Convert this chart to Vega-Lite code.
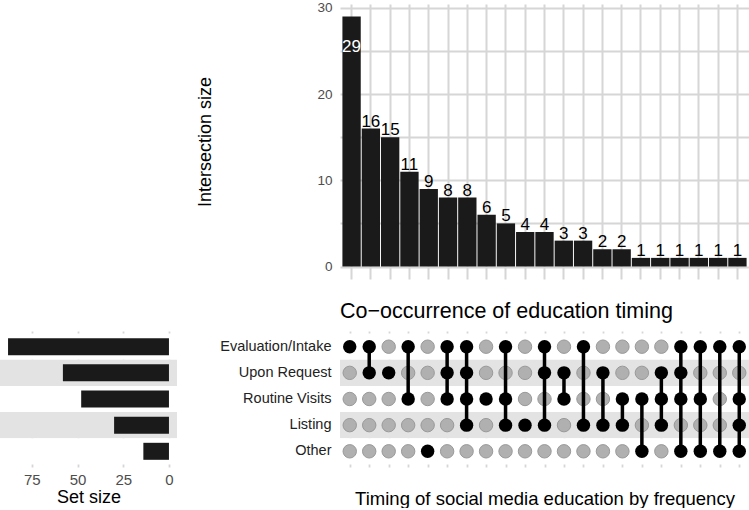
{
  "$schema": "https://vega.github.io/schema/vega-lite/v6.json",
  "padding": 0,
  "autosize": {"type": "pad"},
  "background": "white",
  "config": {
    "view": {"stroke": null},
    "font": "Liberation Sans",
    "axis": {"domain": false, "ticks": false, "titleFontWeight": "normal", "titleColor": "#000", "labelFont": "Liberation Sans", "titleFont": "Liberation Sans"}
  },
  "datasets": {
    "intersections": [
      {"id": 1, "count": 29}, {"id": 2, "count": 16}, {"id": 3, "count": 15}, {"id": 4, "count": 11},
      {"id": 5, "count": 9}, {"id": 6, "count": 8}, {"id": 7, "count": 8}, {"id": 8, "count": 6},
      {"id": 9, "count": 5}, {"id": 10, "count": 4}, {"id": 11, "count": 4}, {"id": 12, "count": 3},
      {"id": 13, "count": 3}, {"id": 14, "count": 2}, {"id": 15, "count": 2}, {"id": 16, "count": 1},
      {"id": 17, "count": 1}, {"id": 18, "count": 1}, {"id": 19, "count": 1}, {"id": 20, "count": 1},
      {"id": 21, "count": 1}
    ],
    "sets": [
      {"set": "Evaluation/Intake", "size": 88, "idx": 1},
      {"set": "Upon Request", "size": 58, "idx": 2},
      {"set": "Routine Visits", "size": 48, "idx": 3},
      {"set": "Listing", "size": 30, "idx": 4},
      {"set": "Other", "size": 14, "idx": 5}
    ],
    "matrix": [
      {"id": 1, "set": "Evaluation/Intake", "m": 1}, {"id": 1, "set": "Upon Request", "m": 0}, {"id": 1, "set": "Routine Visits", "m": 0}, {"id": 1, "set": "Listing", "m": 0}, {"id": 1, "set": "Other", "m": 0},
      {"id": 2, "set": "Evaluation/Intake", "m": 1}, {"id": 2, "set": "Upon Request", "m": 1}, {"id": 2, "set": "Routine Visits", "m": 0}, {"id": 2, "set": "Listing", "m": 0}, {"id": 2, "set": "Other", "m": 0},
      {"id": 3, "set": "Evaluation/Intake", "m": 0}, {"id": 3, "set": "Upon Request", "m": 1}, {"id": 3, "set": "Routine Visits", "m": 0}, {"id": 3, "set": "Listing", "m": 0}, {"id": 3, "set": "Other", "m": 0},
      {"id": 4, "set": "Evaluation/Intake", "m": 1}, {"id": 4, "set": "Upon Request", "m": 0}, {"id": 4, "set": "Routine Visits", "m": 1}, {"id": 4, "set": "Listing", "m": 0}, {"id": 4, "set": "Other", "m": 0},
      {"id": 5, "set": "Evaluation/Intake", "m": 0}, {"id": 5, "set": "Upon Request", "m": 0}, {"id": 5, "set": "Routine Visits", "m": 0}, {"id": 5, "set": "Listing", "m": 0}, {"id": 5, "set": "Other", "m": 1},
      {"id": 6, "set": "Evaluation/Intake", "m": 1}, {"id": 6, "set": "Upon Request", "m": 1}, {"id": 6, "set": "Routine Visits", "m": 1}, {"id": 6, "set": "Listing", "m": 0}, {"id": 6, "set": "Other", "m": 0},
      {"id": 7, "set": "Evaluation/Intake", "m": 1}, {"id": 7, "set": "Upon Request", "m": 1}, {"id": 7, "set": "Routine Visits", "m": 1}, {"id": 7, "set": "Listing", "m": 1}, {"id": 7, "set": "Other", "m": 0},
      {"id": 8, "set": "Evaluation/Intake", "m": 0}, {"id": 8, "set": "Upon Request", "m": 0}, {"id": 8, "set": "Routine Visits", "m": 1}, {"id": 8, "set": "Listing", "m": 0}, {"id": 8, "set": "Other", "m": 0},
      {"id": 9, "set": "Evaluation/Intake", "m": 1}, {"id": 9, "set": "Upon Request", "m": 0}, {"id": 9, "set": "Routine Visits", "m": 1}, {"id": 9, "set": "Listing", "m": 1}, {"id": 9, "set": "Other", "m": 0},
      {"id": 10, "set": "Evaluation/Intake", "m": 0}, {"id": 10, "set": "Upon Request", "m": 0}, {"id": 10, "set": "Routine Visits", "m": 0}, {"id": 10, "set": "Listing", "m": 1}, {"id": 10, "set": "Other", "m": 0},
      {"id": 11, "set": "Evaluation/Intake", "m": 1}, {"id": 11, "set": "Upon Request", "m": 1}, {"id": 11, "set": "Routine Visits", "m": 0}, {"id": 11, "set": "Listing", "m": 1}, {"id": 11, "set": "Other", "m": 0},
      {"id": 12, "set": "Evaluation/Intake", "m": 0}, {"id": 12, "set": "Upon Request", "m": 1}, {"id": 12, "set": "Routine Visits", "m": 1}, {"id": 12, "set": "Listing", "m": 0}, {"id": 12, "set": "Other", "m": 0},
      {"id": 13, "set": "Evaluation/Intake", "m": 1}, {"id": 13, "set": "Upon Request", "m": 0}, {"id": 13, "set": "Routine Visits", "m": 0}, {"id": 13, "set": "Listing", "m": 1}, {"id": 13, "set": "Other", "m": 0},
      {"id": 14, "set": "Evaluation/Intake", "m": 0}, {"id": 14, "set": "Upon Request", "m": 1}, {"id": 14, "set": "Routine Visits", "m": 0}, {"id": 14, "set": "Listing", "m": 1}, {"id": 14, "set": "Other", "m": 0},
      {"id": 15, "set": "Evaluation/Intake", "m": 0}, {"id": 15, "set": "Upon Request", "m": 0}, {"id": 15, "set": "Routine Visits", "m": 1}, {"id": 15, "set": "Listing", "m": 1}, {"id": 15, "set": "Other", "m": 0},
      {"id": 16, "set": "Evaluation/Intake", "m": 0}, {"id": 16, "set": "Upon Request", "m": 0}, {"id": 16, "set": "Routine Visits", "m": 1}, {"id": 16, "set": "Listing", "m": 0}, {"id": 16, "set": "Other", "m": 1},
      {"id": 17, "set": "Evaluation/Intake", "m": 0}, {"id": 17, "set": "Upon Request", "m": 1}, {"id": 17, "set": "Routine Visits", "m": 1}, {"id": 17, "set": "Listing", "m": 1}, {"id": 17, "set": "Other", "m": 0},
      {"id": 18, "set": "Evaluation/Intake", "m": 1}, {"id": 18, "set": "Upon Request", "m": 1}, {"id": 18, "set": "Routine Visits", "m": 1}, {"id": 18, "set": "Listing", "m": 0}, {"id": 18, "set": "Other", "m": 1},
      {"id": 19, "set": "Evaluation/Intake", "m": 1}, {"id": 19, "set": "Upon Request", "m": 0}, {"id": 19, "set": "Routine Visits", "m": 1}, {"id": 19, "set": "Listing", "m": 0}, {"id": 19, "set": "Other", "m": 1},
      {"id": 20, "set": "Evaluation/Intake", "m": 1}, {"id": 20, "set": "Upon Request", "m": 0}, {"id": 20, "set": "Routine Visits", "m": 0}, {"id": 20, "set": "Listing", "m": 0}, {"id": 20, "set": "Other", "m": 1},
      {"id": 21, "set": "Evaluation/Intake", "m": 1}, {"id": 21, "set": "Upon Request", "m": 0}, {"id": 21, "set": "Routine Visits", "m": 1}, {"id": 21, "set": "Listing", "m": 1}, {"id": 21, "set": "Other", "m": 1}
    ]
  },
  "columns": 2,
  "bounds": "flush",
  "spacing": {"row": 52, "column": 163},
  "concat": [
    {
      "width": 177, "height": 275,
      "data": {"values": [{"a": 0}]},
      "mark": {"type": "point", "opacity": 0},
      "encoding": {}
    },
    {
      "width": 409, "height": 275,
      "data": {"name": "intersections"},
      "encoding": {
        "x": {"field": "id", "type": "ordinal",
          "scale": {"paddingInner": 0.05, "paddingOuter": 0.125},
          "axis": {"title": null, "labels": false, "grid": true, "gridColor": "#d6d6d6", "gridWidth": 2, "bandPosition": 0.5}}
      },
      "layer": [
        {
          "mark": {"type": "bar", "color": "#1a1a1a"},
          "encoding": {
            "y": {"field": "count", "type": "quantitative",
              "scale": {"domain": [-1.45, 30.45], "nice": false, "zero": false},
              "axis": {"values": [0, 5, 10, 15, 20, 25, 30], "labelExpr": "datum.value % 10 === 0 ? datum.label : ''",
                "grid": true, "gridColor": "#d6d6d6", "gridWidth": 1.8, "labelFontSize": 13.5, "labelColor": "#4d4d4d",
                "labelPadding": 8, "title": "Intersection size", "titleFontSize": 18, "titlePadding": 102}},
            "y2": {"datum": 0}
          }
        },
        {
          "transform": [{"filter": "datum.count < 25"}],
          "mark": {"type": "text", "fontSize": 17, "baseline": "alphabetic", "dy": -2, "color": "#000"},
          "encoding": {"y": {"field": "count", "type": "quantitative"}, "text": {"field": "count", "type": "quantitative"}}
        },
        {
          "transform": [{"filter": "datum.count >= 25"}],
          "mark": {"type": "text", "fontSize": 17, "baseline": "alphabetic", "dy": 35, "color": "#ffffff"},
          "encoding": {"y": {"field": "count", "type": "quantitative"}, "text": {"field": "count", "type": "quantitative"}}
        }
      ]
    },
    {
      "width": 177, "height": 136,
      "data": {"name": "sets"},
      "encoding": {
        "y": {"field": "set", "type": "nominal",
          "scale": {"domain": ["Evaluation/Intake", "Upon Request", "Routine Visits", "Listing", "Other"], "paddingInner": 0, "paddingOuter": 0.1},
          "axis": null}
      },
      "layer": [
        {
          "mark": {"type": "bar", "height": {"band": 0.65}, "color": "#1a1a1a", "opacity": 0},
          "encoding": {
            "x": {"field": "size", "type": "quantitative",
              "scale": {"domain": [-4.4, 92.4], "reverse": true, "nice": false, "zero": false},
              "axis": {"values": [0, 12.5, 25, 37.5, 50, 62.5, 75, 87.5], "labelExpr": "datum.value % 25 === 0 ? datum.label : ''",
                "grid": true, "gridColor": "#d6d6d6", "gridWidth": 1.8, "labelFontSize": 15, "labelColor": "#4d4d4d",
                "labelPadding": 5, "title": "Set size", "titleFontSize": 18, "titlePadding": 1}},
            "x2": {"datum": 0}
          }
        },
        {
          "mark": {"type": "rect"},
          "encoding": {
            "color": {"condition": {"test": "datum.idx % 2 === 0", "value": "#e3e3e3"}, "value": "#ffffff"}
          }
        },
        {
          "mark": {"type": "bar", "height": {"band": 0.65}, "color": "#1a1a1a"},
          "encoding": {
            "x": {"field": "size", "type": "quantitative"},
            "x2": {"datum": 0}
          }
        }
      ]
    },
    {
      "width": 409, "height": 136,
      "title": {"text": "Co−occurrence of education timing", "anchor": "start", "frame": "group", "fontSize": 21.5, "fontWeight": "normal", "color": "#000", "baseline": "alphabetic", "offset": -8},
      "encoding": {
        "y": {"field": "set", "type": "nominal",
          "scale": {"domain": ["Evaluation/Intake", "Upon Request", "Routine Visits", "Listing", "Other"], "paddingInner": 0, "paddingOuter": 0.1},
          "axis": {"title": null, "labelFontSize": 14.5, "labelColor": "#222222", "labelPadding": 9}}
      },
      "layer": [
        {
          "data": {"name": "matrix"},
          "transform": [{"filter": "datum.m === 0"}],
          "mark": {"type": "circle", "size": 180, "opacity": 0},
          "encoding": {
            "x": {"field": "id", "type": "ordinal",
              "scale": {"paddingInner": 0.05, "paddingOuter": 0.125},
              "axis": {"title": "Timing of social media education by frequency", "labels": false, "grid": true, "gridColor": "#d6d6d6", "gridWidth": 1.8, "bandPosition": 0.5, "titleFontSize": 18.5, "titlePadding": 22}}
          }
        },
        {
          "data": {"name": "sets"},
          "mark": {"type": "rect"},
          "encoding": {
            "color": {"condition": {"test": "datum.idx % 2 === 0", "value": "#e3e3e3"}, "value": "#ffffff"}
          }
        },
        {
          "data": {"name": "matrix"},
          "transform": [{"filter": "datum.m === 0"}],
          "mark": {"type": "circle", "size": 180, "opacity": 1, "fill": "#b0b0b0", "stroke": "#999999", "strokeWidth": 1},
          "encoding": {"x": {"field": "id", "type": "ordinal"}}
        },
        {
          "data": {"name": "matrix"},
          "transform": [{"filter": "datum.m === 1"}],
          "mark": {"type": "line", "color": "#000000", "strokeWidth": 3.5},
          "encoding": {"x": {"field": "id", "type": "ordinal"}, "detail": {"field": "id", "type": "nominal"}}
        },
        {
          "data": {"name": "matrix"},
          "transform": [{"filter": "datum.m === 1"}],
          "mark": {"type": "circle", "size": 180, "opacity": 1, "fill": "#000000"},
          "encoding": {"x": {"field": "id", "type": "ordinal"}}
        }
      ]
    }
  ]
}
